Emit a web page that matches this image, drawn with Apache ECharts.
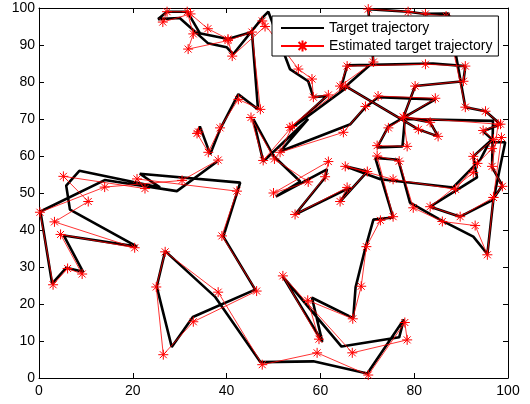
<!DOCTYPE html>
<html><head><meta charset="utf-8">
<script src="https://cdn.jsdelivr.net/npm/echarts@6/dist/echarts.min.js"></script>
<style>html,body{margin:0;padding:0;background:#fff}#c{width:530px;height:404px}</style>
</head><body><div id="c"></div>
<script>
const targetPath = [[38.0,58.5],[29.4,50.5],[14.0,53.5],[0.3,45.0],[2.8,25.5],[5.8,29.8],[9.4,28.7],[5.3,38.5],[20.9,35.5],[6.6,45.5],[5.8,52.0],[8.6,56.0],[25.8,51.5],[21.5,55.2],[42.9,52.8],[39.3,38.2],[46.1,23.9],[32.8,16.5],[28.3,8.4],[25.1,24.7],[26.9,34.3],[37.5,22.0],[47.2,4.3],[58.5,4.5],[70.0,1.2],[77.8,15.8],[76.8,11.0],[64.5,8.5],[52.0,27.4],[60.4,9.8],[58.2,21.7],[67.0,16.2],[67.5,24.5],[69.5,34.7],[71.3,42.8],[75.5,43.4],[71.7,59.5],[76.6,59.0],[79.1,47.4],[85.5,42.8],[92.6,38.2],[95.6,33.5],[96.9,48.5],[98.8,52.0],[96.6,57.0],[96.8,69.5],[78.0,70.0],[77.5,62.6],[72.1,62.3],[74.5,68.0],[84.5,75.3],[72.3,75.9],[69.6,73.2],[66.4,68.6],[51.4,61.2],[57.4,70.0],[47.8,58.5],[45.7,70.0],[50.0,60.0],[55.7,53.1],[50.5,49.0],[61.4,56.4],[61.0,54.2],[54.6,44.2],[66.4,51.5],[64.2,47.7],[70.0,55.8],[65.3,57.2],[72.8,53.7],[88.3,51.5],[94.1,59.0],[96.0,63.7],[99.4,63.7],[96.9,48.2],[89.8,43.6],[83.4,46.3],[93.4,54.2],[92.6,59.9],[96.6,64.5],[94.7,66.7],[98.4,68.6],[95.2,72.1],[90.9,73.2],[87.3,98.5],[82.4,98.4],[78.7,99.0],[70.2,99.7],[71.3,85.4],[64.2,77.5],[65.7,84.5],[84.0,85.0],[90.9,84.3],[90.5,80.2],[80.2,78.9],[77.7,70.5],[83.4,69.1],[85.1,65.3],[80.9,67.2],[65.7,78.6],[53.5,67.2],[61.4,76.2],[58.5,75.9],[57.4,80.2],[53.5,83.5],[48.9,99.0],[47.8,97.6],[41.4,87.5],[40.0,89.4],[36.0,90.5],[30.0,97.3],[25.4,97.0],[27.3,99.0],[31.6,99.0],[34.3,93.2],[32.9,93.5],[40.3,91.6],[45.4,93.5],[46.7,72.6],[42.5,76.7],[38.6,67.2],[36.5,60.5],[34.3,68.0],[33.7,66.1]];
const estimatedPath = [[38.2,58.9],[30.5,53.4],[14.0,51.6],[0.2,44.8],[3.0,25.2],[6.1,29.6],[9.2,28.1],[4.6,38.8],[20.4,35.2],[3.3,42.2],[10.5,47.7],[5.2,54.5],[22.6,51.2],[20.9,53.8],[42.2,50.5],[39.0,38.4],[46.4,23.5],[32.9,15.2],[26.5,6.3],[25.0,24.6],[26.9,34.1],[38.2,23.2],[47.6,3.6],[59.3,6.8],[70.2,0.8],[78.0,15.0],[78.5,10.3],[66.8,6.8],[52.0,27.6],[59.7,10.5],[57.3,21.0],[66.9,16.0],[68.7,24.8],[69.8,35.5],[72.8,42.6],[75.5,43.6],[72.1,60.0],[76.8,58.6],[79.8,46.0],[86.0,42.3],[93.0,41.2],[95.6,33.3],[96.9,48.8],[98.8,51.8],[96.6,57.2],[97.9,68.6],[77.7,70.5],[78.5,62.6],[72.1,62.8],[74.5,67.6],[84.5,75.6],[72.3,76.2],[69.6,73.4],[64.9,66.4],[51.4,61.0],[54.0,68.0],[47.8,58.8],[45.2,70.4],[50.2,59.2],[57.4,53.0],[50.0,50.0],[61.7,58.5],[61.0,54.4],[54.6,44.2],[65.7,51.5],[64.2,47.7],[70.0,55.8],[65.3,57.2],[75.5,53.7],[88.8,51.0],[93.5,58.0],[96.6,62.0],[98.6,65.0],[96.9,48.8],[89.8,43.6],[83.4,46.3],[92.6,55.5],[92.6,59.9],[96.9,64.5],[94.7,66.9],[98.4,68.6],[95.2,72.1],[90.9,73.2],[86.8,97.8],[82.4,98.4],[78.7,99.0],[70.2,99.7],[71.3,85.4],[64.2,78.9],[65.7,84.3],[82.4,84.8],[90.9,84.3],[90.5,80.2],[80.2,78.9],[77.7,70.5],[83.4,69.1],[85.1,65.3],[80.9,67.2],[65.3,78.9],[53.5,67.7],[61.7,76.5],[58.5,75.9],[58.2,80.8],[55.3,83.5],[47.6,96.5],[48.2,95.0],[41.2,87.0],[40.3,91.6],[36.0,94.4],[32.3,98.4],[26.4,96.2],[27.3,99.0],[31.6,99.0],[32.9,93.0],[31.8,88.9],[40.3,91.2],[45.4,93.5],[47.2,72.6],[42.5,75.3],[38.6,67.6],[36.1,61.0],[33.7,66.1],[34.0,66.5]];
const seriesNames = ['Target trajectory', 'Estimated target trajectory'];
const xTicks = [0, 20, 40, 60, 80, 100];
const yTicks = [0, 10, 20, 30, 40, 50, 60, 70, 80, 90, 100];

const star = 'path://M0,-10L0,10M-10,0L10,0M-7,-7L7,7M-7,7L7,-7';
const font = 'Liberation Sans';
const chart = echarts.init(document.getElementById('c'));
const baseAxis = {
  min: 0, max: 100,
  axisLine: { show: true, onZero: false, lineStyle: { color: '#000', width: 1 } },
  axisTick: { show: true, inside: true, length: 5, lineStyle: { color: '#000' } },
  splitLine: { show: false }
};
chart.setOption({
  animation: false,
  backgroundColor: '#fff',
  grid: { left: 39, right: 22, top: 8, bottom: 26, containLabel: false },
  legend: {
    orient: 'vertical', left: 272, top: 16,
    backgroundColor: '#fff', borderColor: '#000', borderWidth: 1, borderRadius: 0,
    padding: [5, 6, 3, 8], itemGap: 4, itemWidth: 43, itemHeight: 14,
    textStyle: { fontFamily: font, fontSize: 14, color: '#000' },
    data: seriesNames
  },
  xAxis: [
    Object.assign({}, baseAxis, { type: 'value', interval: 20, position: 'bottom',
      axisLabel: { color: '#000', fontFamily: font, fontSize: 14, margin: 6,
        formatter: v => xTicks.includes(v) ? String(v) : '' } }),
    Object.assign({}, baseAxis, { type: 'value', interval: 20, position: 'top', axisLabel: { show: false } })
  ],
  yAxis: [
    Object.assign({}, baseAxis, { type: 'value', interval: 10, position: 'left',
      axisLabel: { color: '#000', fontFamily: font, fontSize: 14, margin: 4,
        formatter: v => yTicks.includes(v) ? String(v) : '' } }),
    Object.assign({}, baseAxis, { type: 'value', interval: 10, position: 'right', axisLabel: { show: false } })
  ],
  series: [
    { name: seriesNames[0], type: 'line', data: targetPath, symbol: 'circle', showSymbol: false,
      lineStyle: { color: '#000', width: 2.6 },
      itemStyle: { color: 'rgba(0,0,0,0)', borderWidth: 0, borderColor: 'rgba(0,0,0,0)' }, z: 2 },
    { name: seriesNames[1], type: 'line', data: estimatedPath, symbol: star, symbolSize: 10,
      showAllSymbol: true,
      lineStyle: { color: '#ff0000', width: 0.8 },
      itemStyle: { color: 'rgba(0,0,0,0)', borderColor: '#ff0000', borderWidth: 1 }, z: 3 }
  ]
});
</script></body></html>
